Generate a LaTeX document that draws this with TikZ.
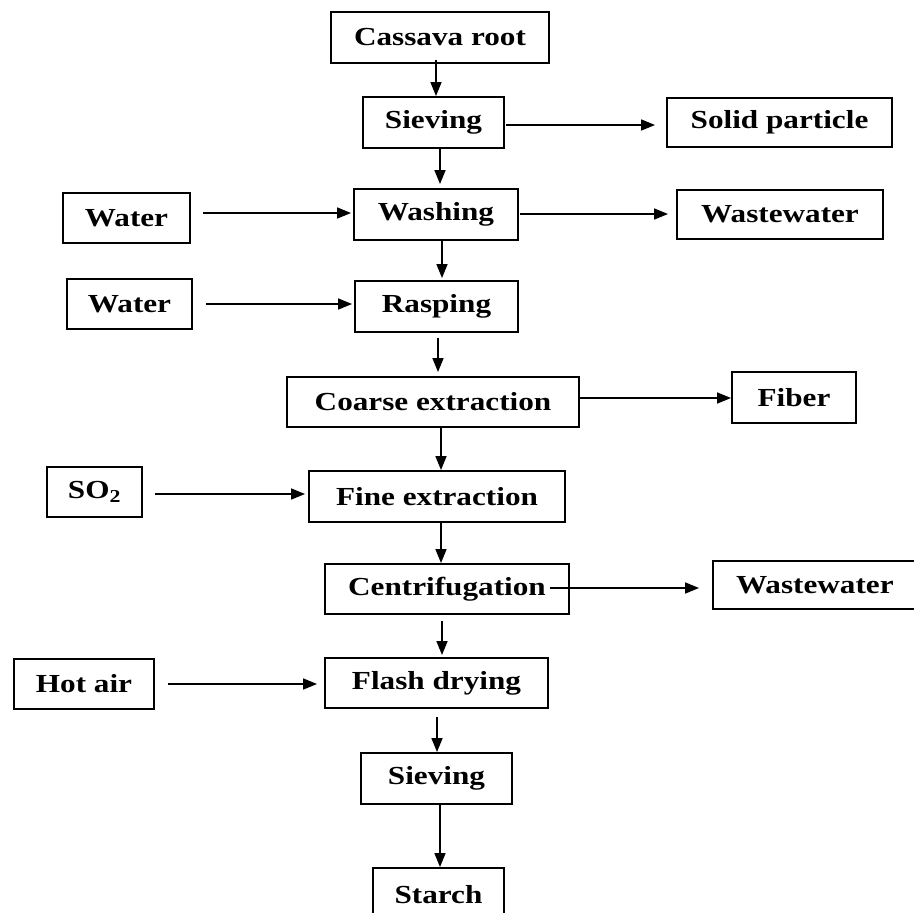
\documentclass[tikz,border=0pt]{standalone}
\usepackage{fontspec}
\setmainfont{Liberation Serif}[FakeStretch=1.2]
\usetikzlibrary{arrows.meta}
\tikzset{
  box/.style={draw, line width=1.9pt, inner sep=0pt, align=center,
    font=\fontsize{26}{30}\selectfont\bfseries},
  arr/.style={line width=1.6pt, -{Triangle[length=14pt,width=11pt]}}
}
\begin{document}
\begin{tikzpicture}[x=1pt,y=-1pt]
\useasboundingbox (0,0) rectangle (914,913);
\clip (0,0) rectangle (914,913);
% boxes
\node[box, minimum width=218, minimum height=51] (cassava) at (440,37.5) {Cassava root};
\node[box, minimum width=141, minimum height=51] (sieve1) at (433.5,122.5) {Sieving};
\node[box, minimum width=225, minimum height=49] (solid) at (779.5,122.5) {Solid particle};
\node[box, minimum width=127, minimum height=50] (water1) at (126.5,218) {Water};
\node[box, minimum width=164, minimum height=51] (washing) at (436,214.5) {Washing};
\node[box, minimum width=206, minimum height=49] (waste1) at (780,214.5) {Wastewater};
\node[box, minimum width=125, minimum height=50] (water2) at (129.5,304) {Water};
\node[box, minimum width=163, minimum height=51] (rasping) at (436.5,306.5) {Rasping};
\node[box, minimum width=292, minimum height=50] (coarse) at (433,402) {Coarse extraction};
\node[box, minimum width=124, minimum height=51] (fiber) at (794,397.5) {Fiber};
\node[box, minimum width=95, minimum height=50] (so2) at (94.5,492) {SO\textsubscript{2}};
\node[box, minimum width=256, minimum height=51] (fine) at (437,496.5) {Fine extraction};
\node[box, minimum width=244, minimum height=50] (centr) at (447,589) {Centrifugation};
\node[box, minimum width=227, minimum height=48, text width=227, align=left] (waste2) at (826.5,585) {\hspace*{23pt}Wastewater};
\node[box, minimum width=140, minimum height=50] (hotair) at (84,684) {Hot air};
\node[box, minimum width=223, minimum height=50] (flash) at (436.5,683) {Flash drying};
\node[box, minimum width=151, minimum height=51] (sieve2) at (436.5,778.5) {Sieving};
\node[box, minimum width=131, minimum height=62] (starch) at (438.5,899) {\raisebox{10pt}{Starch}};
% vertical connectors
\draw[arr] ([shift={(-4,-4)}]cassava.south) -- ([shift={(2.5,0)}]sieve1.north);
\draw[arr] ([shift={(6.5,0)}]sieve1.south) -- ([shift={(4,-4)}]washing.north);
\draw[arr] ([shift={(6,0)}]washing.south) -- ([shift={(5.5,-2)}]rasping.north);
\draw[arr] ([shift={(1.5,5)}]rasping.south) -- ([shift={(5,-4)}]coarse.north);
\draw[arr] ([shift={(8,0)}]coarse.south) -- ([shift={(4,0)}]fine.north);
\draw[arr] ([shift={(4,0)}]fine.south) -- ([shift={(-6,0)}]centr.north);
\draw[arr] ([shift={(-5,6)}]centr.south) -- ([shift={(5.5,-2)}]flash.north);
\draw[arr] ([shift={(0.5,8)}]flash.south) -- ([shift={(0.5,0)}]sieve2.north);
\draw[arr] ([shift={(3.5,0)}]sieve2.south) -- ([shift={(1.5,0)}]starch.north);
% horizontal connectors
\draw[arr] ([shift={(1,2.5)}]sieve1.east) -- ([shift={(-11,2.5)}]solid.west);
\draw[arr] ([shift={(12,-5)}]water1.east) -- ([shift={(-2,-1.5)}]washing.west);
\draw[arr] ([shift={(1,-0.5)}]washing.east) -- ([shift={(-8,-0.5)}]waste1.west);
\draw[arr] ([shift={(13,0)}]water2.east) -- ([shift={(-2,-2.5)}]rasping.west);
\draw[arr] ([shift={(0,-4)}]coarse.east) -- ([shift={(0,0.5)}]fiber.west);
\draw[arr] ([shift={(12,2)}]so2.east) -- ([shift={(-3,-2.5)}]fine.west);
\draw[arr] ([shift={(-20,-1)}]centr.east) -- ([shift={(-13,3)}]waste2.west);
\draw[arr] ([shift={(13,0)}]hotair.east) -- ([shift={(-7,1)}]flash.west);
\end{tikzpicture}
\end{document}
